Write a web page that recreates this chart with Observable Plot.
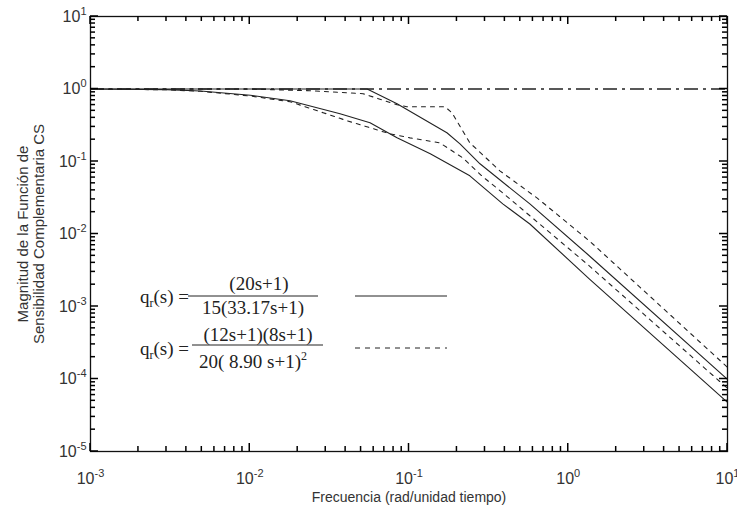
<!DOCTYPE html>
<html><head><meta charset="utf-8">
<script src="https://cdn.jsdelivr.net/npm/d3@7"></script>
<script src="https://cdn.jsdelivr.net/npm/@observablehq/plot@0.6"></script>
<style>
html,body{margin:0;padding:0;background:#fff;}
#chart{width:737px;height:513px;overflow:hidden;}
</style></head><body><div id="chart"></div>
<script>
// Upper solid curve
const freqA = [0.001, 0.01, 0.0546, 0.0841, 0.173, 0.209, 0.279, 0.574, 1.36, 10];
const magA  = [1.0, 1.0, 1.0, 0.627, 0.249, 0.175, 0.093, 0.026, 0.00497, 9.9e-5];
// Upper dashed curve
const freqB = [0.001, 0.01, 0.0239, 0.0515, 0.0841, 0.097, 0.168, 0.186, 0.241, 0.372, 0.636, 1.36, 10];
const magB  = [1.0, 1.0, 0.948, 0.861, 0.607, 0.570, 0.570, 0.471, 0.181, 0.0743, 0.0315, 0.0080, 1.45e-4];
// Lower solid curve
const freqC = [0.001, 0.003, 0.0049, 0.0101, 0.0179, 0.0369, 0.0569, 0.0841, 0.136, 0.241, 0.388, 0.574, 1.36, 10];
const magC  = [1.0, 0.98, 0.94, 0.82, 0.69, 0.456, 0.342, 0.212, 0.128, 0.0634, 0.026, 0.01374, 0.00239, 4.75e-5];
// Lower dashed curve
const freqD = [0.001, 0.003, 0.0049, 0.0101, 0.0179, 0.0289, 0.0408, 0.076, 0.1014, 0.156, 0.218, 0.291, 0.388, 1.36, 10];
const magD  = [1.0, 0.975, 0.93, 0.80, 0.668, 0.471, 0.365, 0.241, 0.212, 0.181, 0.112, 0.0614, 0.0369, 0.00361, 7.43e-5];
// Reference level (dash-dot)
const referenceLevel = [1];

// Axes
const xMajor = [1e-3, 1e-2, 1e-1, 1, 10];
const xExponents = ["-3", "-2", "-1", "0", "1"];
const yMajor = [1e-5, 1e-4, 1e-3, 1e-2, 1e-1, 1, 10];
const yExponents = ["-5", "-4", "-3", "-2", "-1", "0", "1"];
const minorMultipliers = [2, 3, 4, 5, 6, 7, 8, 9];
const xTitle = "Frecuencia (rad/unidad tiempo)";
const yTitle = "Magnitud de la Función de\nSensibilidad Complementaria CS";

// Legend texts
const legendNumerators = ["(20s+1)", "(12s+1)(8s+1)"];
const legendDenominators = ["15(33.17s+1)", "20( 8.90 s+1)"];
const legendDenominatorPower = ["", "2"];

const xDomain = [1e-3, 10], yDomain = [1e-5, 10];
const xMinor = xMajor.slice(0, -1).flatMap(d => minorMultipliers.map(m => d * m));
const yMinor = yMajor.slice(0, -1).flatMap(d => minorMultipliers.map(m => d * m));

const rows = [];
[[freqA, magA, "A", "solid"], [freqB, magB, "B", "dashed"], [freqC, magC, "C", "solid"], [freqD, magD, "D", "dashed"]]
  .forEach(([f, m, c, s]) => f.forEach((v, i) => rows.push({freq: v, mag: m[i], curve: c, style: s})));

const fmtX = d => "10|" + xExponents[xMajor.indexOf(d)];
const fmtY = d => "10|" + yExponents[yMajor.indexOf(d)];
const ink = "#222";
const labelInk = "#333";
const tickInk = "#000";

const W = 737, H = 513, mL = 90, mR = 10, mT = 16, mB = 62;
const majorLen = 8, minorLen = 5;

const plot = Plot.plot({
  width: W,
  height: H,
  marginLeft: mL,
  marginRight: mR,
  marginTop: mT,
  marginBottom: mB,
  style: {fontFamily: "'Liberation Sans', Arial, sans-serif", fontSize: "16px", background: "white", color: labelInk},
  x: {type: "log", domain: xDomain, label: null},
  y: {type: "log", domain: yDomain, label: null},
  marks: [
    Plot.ruleY(referenceLevel, {stroke: ink, strokeWidth: 1.3, strokeDasharray: "14,5,3,5"}),
    Plot.line(rows.filter(d => d.style === "solid"), {x: "freq", y: "mag", z: "curve", stroke: ink, strokeWidth: 1.1}),
    Plot.line(rows.filter(d => d.style === "dashed"), {x: "freq", y: "mag", z: "curve", stroke: ink, strokeWidth: 1.1, strokeDasharray: "4,5"}),
    Plot.frame({stroke: "#111", strokeWidth: 1.3}),
    // tick labels
    Plot.axisX(xMajor, {anchor: "bottom", tickSize: 0, tickPadding: 21, tickFormat: fmtX, label: null, fill: labelInk, fontSize: 16}),
    Plot.axisY(yMajor, {anchor: "left", tickSize: 0, tickPadding: 4, tickFormat: fmtY, label: null, fill: labelInk, fontSize: 16}),
    // titles
    Plot.text([xTitle], {frameAnchor: "bottom", dy: 46, lineAnchor: "middle", textAnchor: "middle", text: d => d, fill: labelInk, fontSize: 14}),
    Plot.text([yTitle], {frameAnchor: "left", dx: -60, rotate: -90, textAnchor: "middle", lineAnchor: "middle", text: d => d, fill: labelInk, fontSize: 15, lineHeight: 1.07})
  ]
});

document.getElementById("chart").appendChild(plot);
const svg = d3.select(plot);

// inward ticks on all four sides, placed with the plot's own scales
const sx = plot.scale("x"), sy = plot.scale("y");
const fbX = d3.scaleLog().domain(xDomain).range([mL, W - mR]);
const fbY = d3.scaleLog().domain(yDomain).range([H - mB, mT]);
const xs = v => { const p = sx && sx.apply ? +sx.apply(v) : NaN; return isFinite(p) ? p : fbX(v); };
const ys = v => { const p = sy && sy.apply ? +sy.apply(v) : NaN; return isFinite(p) ? p : fbY(v); };
const frameL = mL, frameR = W - mR, frameT = mT, frameB = H - mB;
const tg = svg.append("g").attr("aria-label", "inward ticks")
  .attr("stroke", tickInk).attr("stroke-width", 1.5).attr("fill", "none");
function addTicks(vals, len, axis) {
  vals.forEach(v => {
    if (axis === "x") {
      const x = xs(v);
      tg.append("line").attr("x1", x).attr("x2", x).attr("y1", frameB).attr("y2", frameB - len);
      tg.append("line").attr("x1", x).attr("x2", x).attr("y1", frameT).attr("y2", frameT + len);
    } else {
      const y = ys(v);
      tg.append("line").attr("y1", y).attr("y2", y).attr("x1", frameL).attr("x2", frameL + len);
      tg.append("line").attr("y1", y).attr("y2", y).attr("x1", frameR).attr("x2", frameR - len);
    }
  });
}
addTicks(xMajor, majorLen, "x");
addTicks(xMinor, minorLen, "x");
addTicks(yMajor, majorLen, "y");
addTicks(yMinor, minorLen, "y");

// superscript exponents on tick labels
svg.selectAll('g[aria-label="x-axis tick label"] text, g[aria-label="y-axis tick label"] text').each(function() {
  const s = this.textContent;
  if (s.indexOf("|") < 0) return;
  const [base, exp] = s.split("|");
  const t = d3.select(this);
  t.text(null);
  t.append("tspan").text(base);
  t.append("tspan").attr("dy", "-7").attr("font-size", 11).text(exp);
});

// legend (annotation inside the frame)
const leg = svg.append("g")
  .attr("font-family", "'Liberation Serif', 'Times New Roman', serif")
  .attr("font-size", 19)
  .attr("text-anchor", "start")
  .attr("fill", ink);
function qr(x, y) {
  const t = leg.append("text").attr("x", x).attr("y", y).attr("text-anchor", "start");
  t.append("tspan").text("q");
  t.append("tspan").attr("font-size", 12).attr("dy", 4).text("r");
  t.append("tspan").attr("dy", -4).text("(s) =");
}
const eq = [
  {qy: 303, numX: 259, numY: 290, barX1: 188, barX2: 318, barY: 296, denX: 253, denY: 314, keyY: 296, dash: null},
  {qy: 355, numX: 258, numY: 341, barX1: 192, barX2: 323, barY: 345, denX: 253, denY: 368, keyY: 348, dash: "5,5"}
];
eq.forEach((e, i) => {
  qr(140, e.qy);
  leg.append("text").attr("x", e.numX).attr("y", e.numY).attr("text-anchor", "middle").text(legendNumerators[i]);
  leg.append("line").attr("x1", e.barX1).attr("x2", e.barX2).attr("y1", e.barY).attr("y2", e.barY).attr("stroke", ink).attr("stroke-width", 1);
  const d = leg.append("text").attr("x", e.denX).attr("y", e.denY).attr("text-anchor", "middle");
  d.append("tspan").text(legendDenominators[i]);
  if (legendDenominatorPower[i]) d.append("tspan").attr("dy", -8).attr("font-size", 12).text(legendDenominatorPower[i]);
  leg.append("line").attr("x1", 355).attr("x2", 447).attr("y1", e.keyY).attr("y2", e.keyY)
    .attr("stroke", ink).attr("stroke-width", 1).attr("stroke-dasharray", e.dash);
});
</script></body></html>
